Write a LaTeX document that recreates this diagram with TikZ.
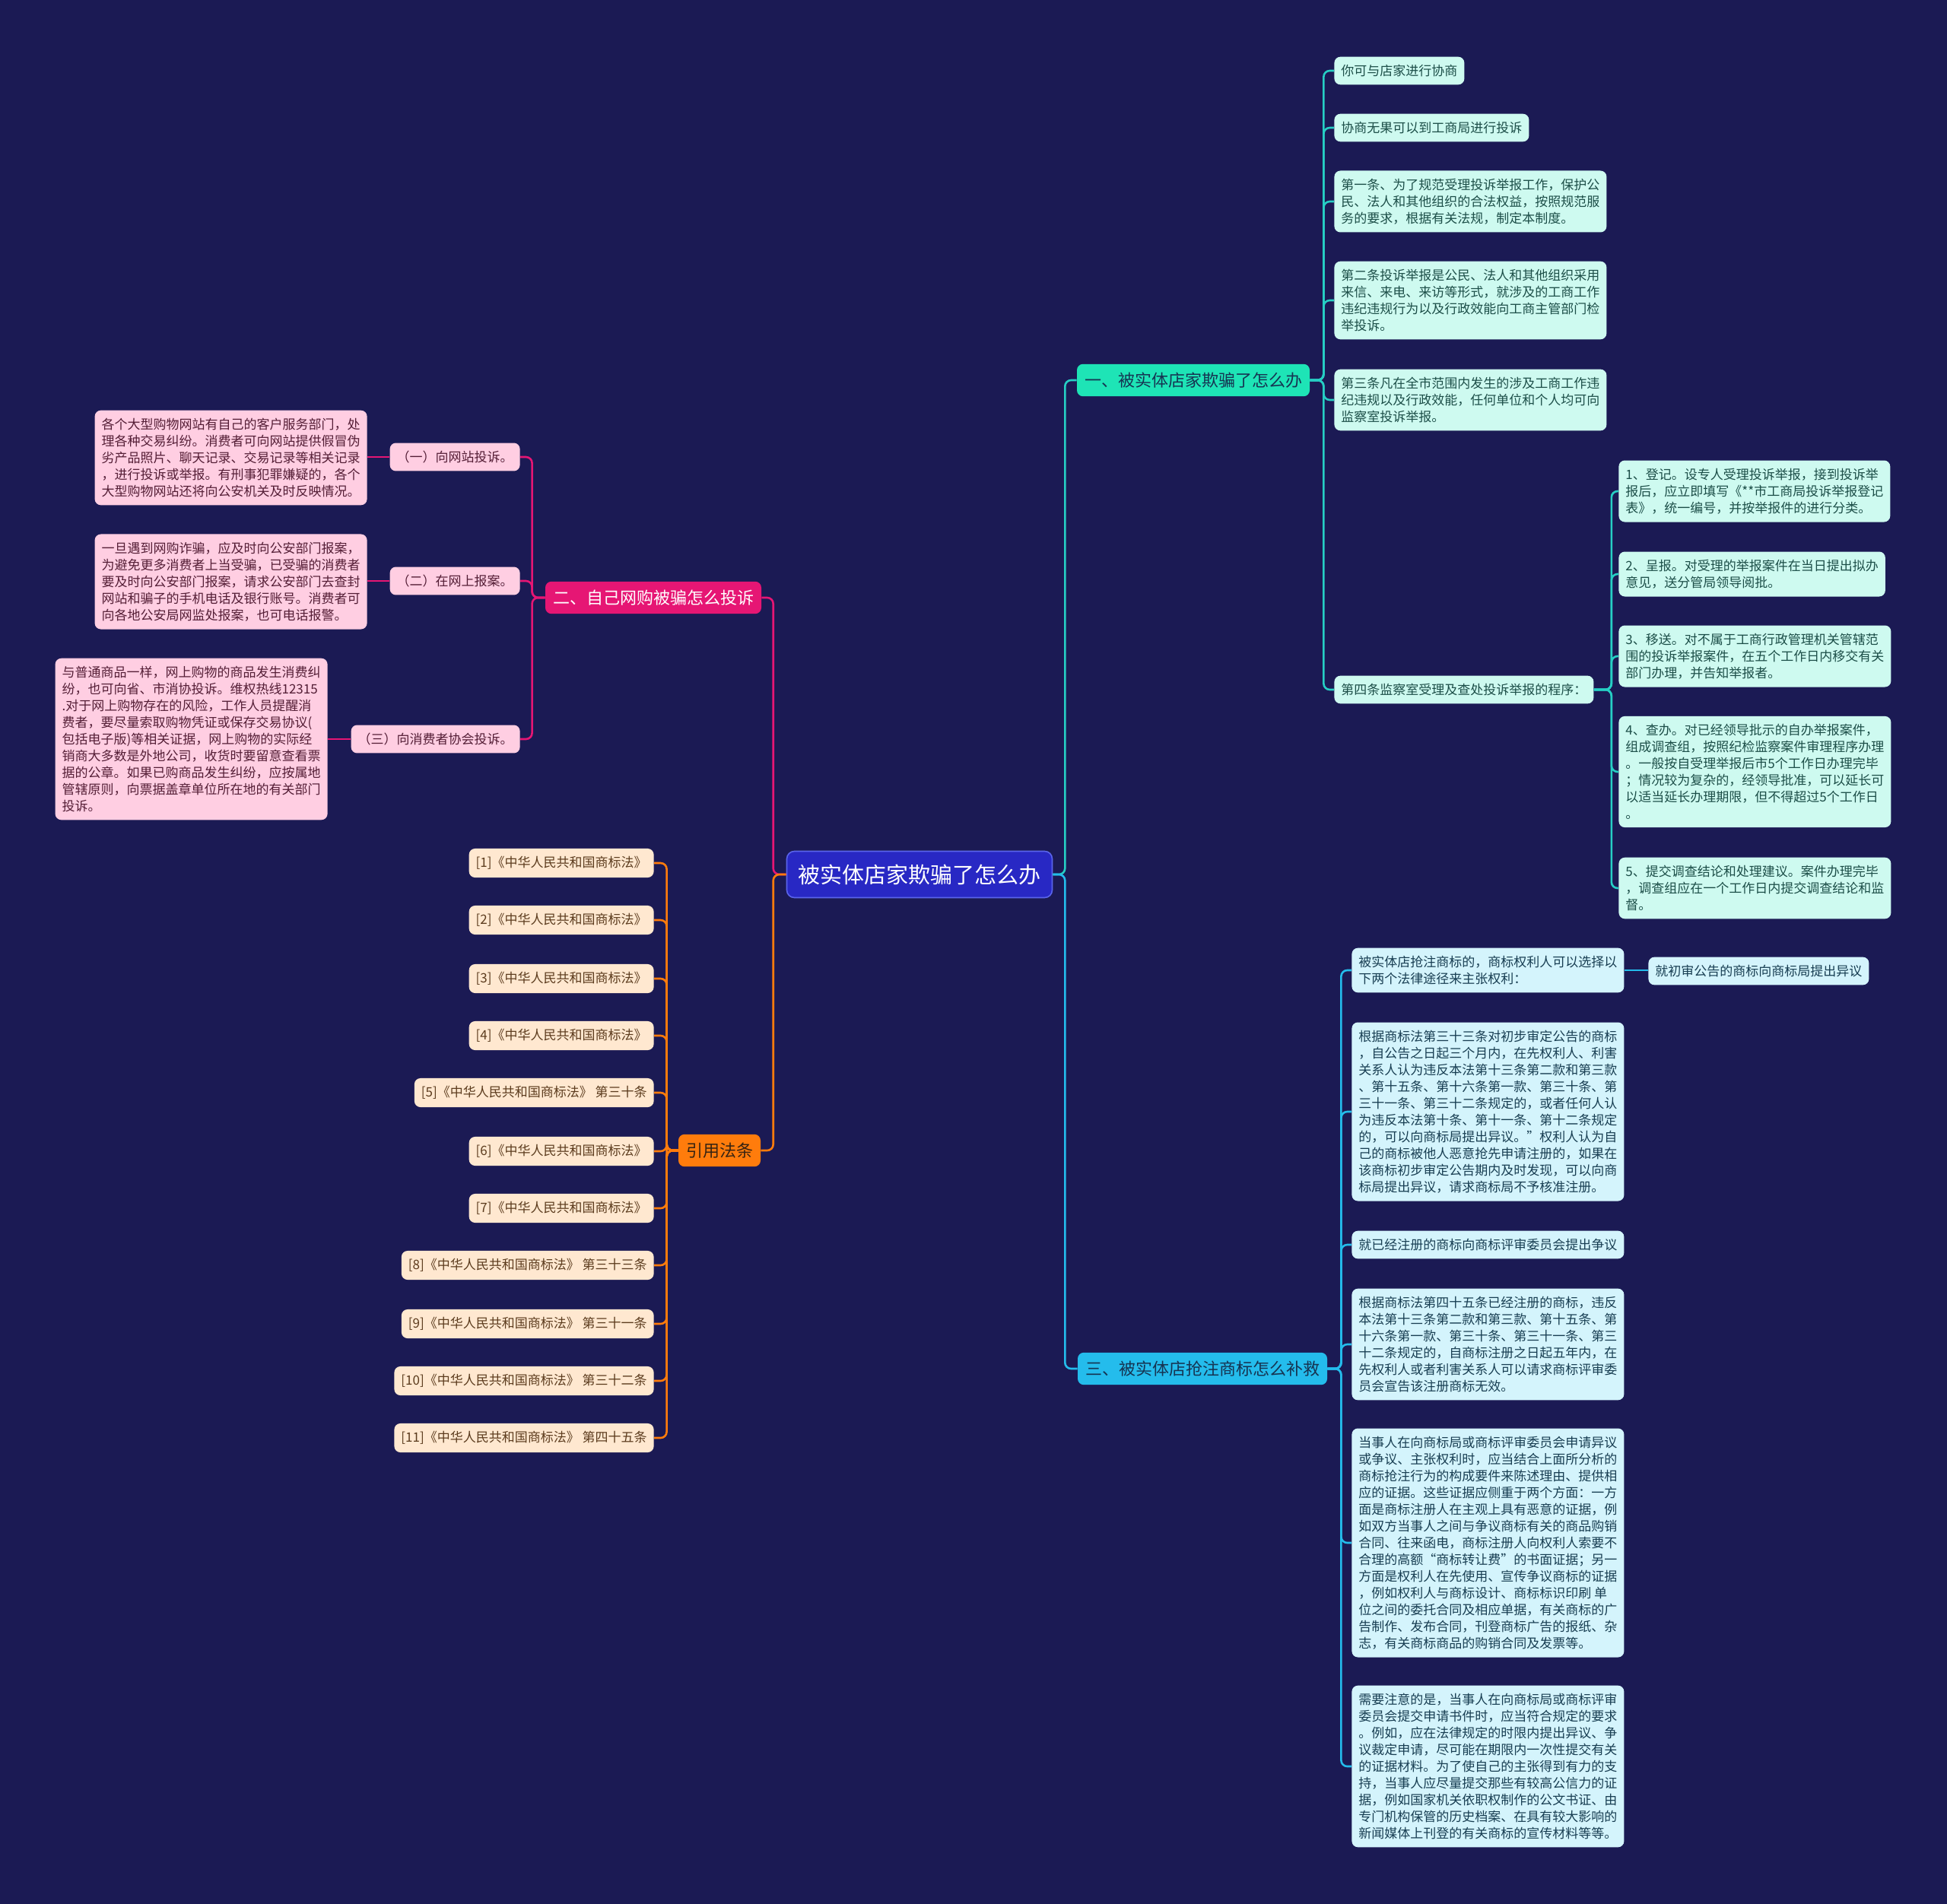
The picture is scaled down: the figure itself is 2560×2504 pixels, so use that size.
\documentclass[tikz,border=0pt]{standalone}
\usepackage{fontspec}
\newfontfamily\cjk{Noto Sans CJK SC}
\definecolor{bgnavy}{RGB}{27, 26, 84}
\definecolor{rootblue}{RGB}{40, 40, 196}
\definecolor{rootedge}{RGB}{90, 100, 235}
\definecolor{tealmain}{RGB}{30, 228, 182}
\definecolor{tealline}{RGB}{38, 206, 196}
\definecolor{mintfill}{RGB}{206, 250, 240}
\definecolor{minttext}{RGB}{28, 78, 72}
\definecolor{skymain}{RGB}{36, 188, 236}
\definecolor{cyanfill}{RGB}{212, 244, 252}
\definecolor{cyantext}{RGB}{24, 62, 82}
\definecolor{magmain}{RGB}{230, 22, 116}
\definecolor{pinkfill}{RGB}{255, 206, 226}
\definecolor{pinktext}{RGB}{84, 30, 54}
\definecolor{orangemain}{RGB}{255, 124, 12}
\definecolor{creamfill}{RGB}{255, 232, 208}
\definecolor{creamtext}{RGB}{92, 60, 30}
\definecolor{darkhead}{RGB}{22, 52, 82}

\tikzset{
  leaf/.style={rounded corners=4pt, inner xsep=4.5pt, inner ysep=5.2pt, align=left,
    font=\cjk\fontsize{8.5}{11}\selectfont},
  mintleaf/.style={leaf, fill=mintfill, text=minttext},
  cyanleaf/.style={leaf, fill=cyanfill, text=cyantext},
  pinkleaf/.style={leaf, fill=pinkfill, text=pinktext},
  creamleaf/.style={leaf, fill=creamfill, text=creamtext},
  branch/.style={rounded corners=4pt, inner xsep=5pt, inner ysep=5.5pt,
    font=\cjk\fontsize{11}{13}\selectfont},
  link/.style={line width=1.3pt, rounded corners=4pt},
}

\begin{document}
\begin{tikzpicture}[x=0.5pt, y=-0.5pt]
  \fill[bgnavy] (0,0) rectangle (2560,2504);
  \useasboundingbox (0,0) rectangle (2560,2504);

  % centre
  \node[rounded corners=5pt, fill=rootblue, draw=rootedge, line width=0.8pt, text=white,
    inner xsep=7.5pt, inner ysep=8.5pt, font=\cjk\fontsize{14.5}{16}\selectfont]
    (root) at (1209,1150) {被实体店家欺骗了怎么办};

  % main branches
  \node[branch, fill=tealmain, text=darkhead] (b1) at (1569,500) {一、被实体店家欺骗了怎么办};
  \node[branch, fill=magmain, text=white] (b2) at (859,786) {二、自己网购被骗怎么投诉};
  \node[branch, fill=skymain, text=darkhead] (b3) at (1581,1800) {三、被实体店抢注商标怎么补救};
  \node[branch, fill=orangemain, text=creamtext!60!black] (b4) at (946,1513) {引用法条};

  % branch one
  \node[mintleaf, anchor=west] (c1) at (1754,93) {你可与店家进行协商};
  \node[mintleaf, anchor=west] (c2) at (1754,168) {协商无果可以到工商局进行投诉};
  \node[mintleaf, anchor=west] (c3) at (1754,265) {第一条、为了规范受理投诉举报工作，保护公\\民、法人和其他组织的合法权益，按照规范服\\务的要求，根据有关法规，制定本制度。};
  \node[mintleaf, anchor=west] (c4) at (1754,395) {第二条投诉举报是公民、法人和其他组织采用\\来信、来电、来访等形式，就涉及的工商工作\\违纪违规行为以及行政效能向工商主管部门检\\举投诉。};
  \node[mintleaf, anchor=west] (c5) at (1754,526) {第三条凡在全市范围内发生的涉及工商工作违\\纪违规以及行政效能，任何单位和个人均可向\\监察室投诉举报。};
  \node[mintleaf, anchor=west] (c6) at (1754,907) {第四条监察室受理及查处投诉举报的程序：};

  \node[mintleaf, anchor=west] (d1) at (2128,646) {1、登记。设专人受理投诉举报，接到投诉举\\报后，应立即填写《**市工商局投诉举报登记\\表》，统一编号，并按举报件的进行分类。};
  \node[mintleaf, anchor=west] (d2) at (2128,755) {2、呈报。对受理的举报案件在当日提出拟办\\意见，送分管局领导阅批。};
  \node[mintleaf, anchor=west] (d3) at (2128,863) {3、移送。对不属于工商行政管理机关管辖范\\围的投诉举报案件，在五个工作日内移交有关\\部门办理，并告知举报者。};
  \node[mintleaf, anchor=west] (d4) at (2128,1015) {4、查办。对已经领导批示的自办举报案件，\\组成调查组，按照纪检监察案件审理程序办理\\。一般按自受理举报后市5个工作日办理完毕\\；情况较为复杂的，经领导批准，可以延长可\\以适当延长办理期限，但不得超过5个工作日\\。};
  \node[mintleaf, anchor=west] (d5) at (2128,1168) {5、提交调查结论和处理建议。案件办理完毕\\，调查组应在一个工作日内提交调查结论和监\\督。};

  % branch two
  \node[pinkleaf, anchor=east] (e1) at (684,601) {（一）向网站投诉。};
  \node[pinkleaf, anchor=east] (e2) at (684,764) {（二）在网上报案。};
  \node[pinkleaf, anchor=east] (e3) at (684,972) {（三）向消费者协会投诉。};

  \node[pinkleaf, anchor=east] (f1) at (483,602) {各个大型购物网站有自己的客户服务部门，处\\理各种交易纠纷。消费者可向网站提供假冒伪\\劣产品照片、聊天记录、交易记录等相关记录\\，进行投诉或举报。有刑事犯罪嫌疑的，各个\\大型购物网站还将向公安机关及时反映情况。};
  \node[pinkleaf, anchor=east] (f2) at (483,765) {一旦遇到网购诈骗，应及时向公安部门报案，\\为避免更多消费者上当受骗，已受骗的消费者\\要及时向公安部门报案，请求公安部门去查封\\网站和骗子的手机电话及银行账号。消费者可\\向各地公安局网监处报案，也可电话报警。};
  \node[pinkleaf, anchor=east] (f3) at (431,972) {与普通商品一样，网上购物的商品发生消费纠\\纷，也可向省、市消协投诉。维权热线12315\\.对于网上购物存在的风险，工作人员提醒消\\费者，要尽量索取购物凭证或保存交易协议(\\包括电子版)等相关证据，网上购物的实际经\\销商大多数是外地公司，收货时要留意查看票\\据的公章。如果已购商品发生纠纷，应按属地\\管辖原则，向票据盖章单位所在地的有关部门\\投诉。};

  % branch three
  \node[cyanleaf, anchor=west] (g1) at (1777,1276) {被实体店抢注商标的，商标权利人可以选择以\\下两个法律途径来主张权利：};
  \node[cyanleaf, anchor=west] (g1a) at (2167,1277) {就初审公告的商标向商标局提出异议};
  \node[cyanleaf, anchor=west] (g2) at (1777,1462) {根据商标法第三十三条对初步审定公告的商标\\，自公告之日起三个月内，在先权利人、利害\\关系人认为违反本法第十三条第二款和第三款\\、第十五条、第十六条第一款、第三十条、第\\三十一条、第三十二条规定的，或者任何人认\\为违反本法第十条、第十一条、第十二条规定\\的，可以向商标局提出异议。”权利人认为自\\己的商标被他人恶意抢先申请注册的，如果在\\该商标初步审定公告期内及时发现，可以向商\\标局提出异议，请求商标局不予核准注册。};
  \node[cyanleaf, anchor=west] (g3) at (1777,1637) {就已经注册的商标向商标评审委员会提出争议};
  \node[cyanleaf, anchor=west] (g4) at (1777,1768) {根据商标法第四十五条已经注册的商标，违反\\本法第十三条第二款和第三款、第十五条、第\\十六条第一款、第三十条、第三十一条、第三\\十二条规定的，自商标注册之日起五年内，在\\先权利人或者利害关系人可以请求商标评审委\\员会宣告该注册商标无效。};
  \node[cyanleaf, anchor=west] (g5) at (1777,2029) {当事人在向商标局或商标评审委员会申请异议\\或争议、主张权利时，应当结合上面所分析的\\商标抢注行为的构成要件来陈述理由、提供相\\应的证据。这些证据应侧重于两个方面：一方\\面是商标注册人在主观上具有恶意的证据，例\\如双方当事人之间与争议商标有关的商品购销\\合同、往来函电，商标注册人向权利人索要不\\合理的高额“商标转让费”的书面证据；另一\\方面是权利人在先使用、宣传争议商标的证据\\，例如权利人与商标设计、商标标识印刷 单\\位之间的委托合同及相应单据，有关商标的广\\告制作、发布合同，刊登商标广告的报纸、杂\\志，有关商标商品的购销合同及发票等。};
  \node[cyanleaf, anchor=west] (g6) at (1777,2323) {需要注意的是，当事人在向商标局或商标评审\\委员会提交申请书件时，应当符合规定的要求\\。例如，应在法律规定的时限内提出异议、争\\议裁定申请，尽可能在期限内一次性提交有关\\的证据材料。为了使自己的主张得到有力的支\\持，当事人应尽量提交那些有较高公信力的证\\据，例如国家机关依职权制作的公文书证、由\\专门机构保管的历史档案、在具有较大影响的\\新闻媒体上刊登的有关商标的宣传材料等等。};

  % branch four
  \node[creamleaf, anchor=east] (k1) at (860,1135) {[1]《中华人民共和国商标法》};
  \node[creamleaf, anchor=east] (k2) at (860,1210) {[2]《中华人民共和国商标法》};
  \node[creamleaf, anchor=east] (k3) at (860,1287) {[3]《中华人民共和国商标法》};
  \node[creamleaf, anchor=east] (k4) at (860,1362) {[4]《中华人民共和国商标法》};
  \node[creamleaf, anchor=east] (k5) at (860,1437) {[5]《中华人民共和国商标法》 第三十条};
  \node[creamleaf, anchor=east] (k6) at (860,1514) {[6]《中华人民共和国商标法》};
  \node[creamleaf, anchor=east] (k7) at (860,1589) {[7]《中华人民共和国商标法》};
  \node[creamleaf, anchor=east] (k8) at (860,1664) {[8]《中华人民共和国商标法》 第三十三条};
  \node[creamleaf, anchor=east] (k9) at (860,1741) {[9]《中华人民共和国商标法》 第三十一条};
  \node[creamleaf, anchor=east] (k10) at (860,1816) {[10]《中华人民共和国商标法》 第三十二条};
  \node[creamleaf, anchor=east] (k11) at (860,1891) {[11]《中华人民共和国商标法》 第四十五条};

  % connectors
  \draw[link, tealline] (root.east) -- ++(16,0) |- (b1.west);
  \draw[link, skymain] (root.east) -- ++(16,0) |- (b3.west);
  \draw[link, magmain] (root.west) -- ++(-17,0) |- (b2.east);
  \draw[link, orangemain] (root.west) -- ++(-17,0) |- (b4.east);
  \foreach \c in {c1,c2,c3,c4,c5,c6}
    \draw[link, tealline] (b1.east) -- ++(18,0) |- (\c.west);
  \foreach \c in {d1,d2,d3,d4,d5}
    \draw[link, tealline] (c6.east) -- ++(23,0) |- (\c.west);
  \foreach \c in {e1,e2,e3}
    \draw[link, magmain] (b2.west) -- ++(-17,0) |- (\c.east);
  \draw[link, magmain] (e1.west) -- (e1.west -| f1.east);
  \draw[link, magmain] (e2.west) -- (e2.west -| f2.east);
  \draw[link, magmain] (e3.west) -- (e3.west -| f3.east);
  \foreach \c in {g1,g2,g3,g4,g5,g6}
    \draw[link, skymain] (b3.east) -- ++(18,0) |- (\c.west);
  \draw[link, skymain] (g1.east) -- (g1.east -| g1a.west);
  \foreach \i in {1,...,11}
    \draw[link, orangemain] (b4.west) -- ++(-15,0) |- (k\i.east);
\end{tikzpicture}
\end{document}
